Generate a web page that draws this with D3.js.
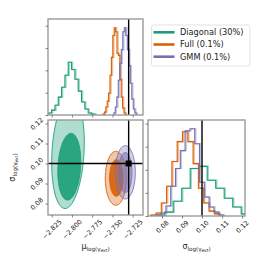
<!DOCTYPE html>
<html><head><meta charset="utf-8">
<script src="https://cdn.jsdelivr.net/npm/d3@7"></script>
<style>body{margin:0;background:#fff} svg{display:block;font-family:"DejaVu Sans",sans-serif}</style>
</head><body>
<script>
// ---------------- data ----------------
const methods = ["Diagonal (30%)", "Full (0.1%)", "GMM (0.1%)"];
const colors = ["#1b9e77", "#d95f02", "#7570b3"];
const truthMu = -2.73;
const truthSigma = 0.10;
const muTicks = [-2.825, -2.8, -2.775, -2.75, -2.725];
const sigmaTicks = [0.08, 0.09, 0.10, 0.11, 0.12];
const densityTicks = [0, 10, 20, 30, 40];

// 1D histograms of mu (left edge, bin width, heights)
const muBinStart = [-2.8292, -2.76167, -2.74833];
const muBinWidth = [0.0041, 0.00173, 0.00185];
const muDiagonal = [0.9, 2.2, 4.4, 8.0, 12.4, 17.8, 23.6, 20.4, 16.0, 10.7, 5.8, 2.7, 0.9, 0.4];
const muFull = [0.4, 1.3, 3.6, 6.2, 9.8, 17.8, 25.8, 35.6, 39.1, 37.3, 27.6, 26.7, 16.0, 8.0, 3.1, 0.9];
const muGMM = [0.9, 3.6, 8.0, 15.6, 23.1, 29.3, 37.3, 39.1, 35.6, 29.3, 22.2, 14.2, 7.1, 2.7, 0.9];

// 1D histograms of sigma
const sigBinStart = [0.0771, 0.07435, 0.07715];
const sigBinWidth = [0.00425, 0.00265, 0.0024];
const sigDiagonal = [0.4, 1.7, 6.4, 12.0, 20.6, 21.5, 15.5, 12.0, 7.7, 3.9, 0.9];
const sigFull = [0.4, 1.3, 5.6, 12.9, 23.6, 32.2, 36.5, 32.2, 22.7, 12.0, 5.6, 2.1, 0.9];
const sigGMM = [0.4, 1.3, 4.3, 12.9, 20.6, 28.3, 36.9, 37.8, 31.3, 14.6, 8.2, 3.9, 1.7, 0.4];

// 2D contours: [outer (2 sigma), inner (1 sigma)] centre mu, centre sigma, half-width mu, half-height sigma
const contourCentreMu = [[-2.8049, -2.8033], [-2.74586, -2.74525], [-2.73414, -2.73414]];
const contourCentreSigma = [[0.1055, 0.0984], [0.0926, 0.09275], [0.0956, 0.0955]];
const contourHalfMu = [[0.0198, 0.0140], [0.0130, 0.00827], [0.01235, 0.00827]];
const contourHalfSigma = [[0.0280, 0.0167], [0.0135, 0.00915], [0.01335, 0.0100]];
const contourTilt = [0.13, 0, 0];

const muHists = [muDiagonal, muFull, muGMM];
const sigHists = [sigDiagonal, sigFull, sigGMM];

// ---------------- layout ----------------
const W = 264, H = 264;
const svg = d3.select("body").append("svg").attr("width", W).attr("height", H);
const TL = {x0: 48, x1: 143, y0: 19, y1: 115};
const BL = {x0: 48, x1: 143, y0: 120, y1: 215};
const BR = {x0: 148, x1: 245, y0: 120, y1: 216};

const xMu = d3.scaleLinear().domain([-2.82957, -2.71228]).range([BL.x0, BL.x1]);
const ySig = d3.scaleLinear().domain([0.07425, 0.12175]).range([BL.y1, BL.y0]);
const xSig = d3.scaleLinear().domain([0.073, 0.1215]).range([BR.x0, BR.x1]);
const muMax = d3.max(muHists, h => d3.max(h));
const sigMax = d3.max(sigHists, h => d3.max(h));
const yMuD = d3.scaleLinear().domain([0, 1.1 * muMax]).range([TL.y1, TL.y0]);
const ySigD = d3.scaleLinear().domain([0, 1.1 * sigMax]).range([BR.y1, BR.y0]);

const defs = svg.append("defs");
function clip(id, p) {
  defs.append("clipPath").attr("id", id).append("rect")
    .attr("x", p.x0).attr("y", p.y0).attr("width", p.x1 - p.x0).attr("height", p.y1 - p.y0);
  return svg.append("g").attr("clip-path", `url(#${id})`);
}
const gTL = clip("cTL", TL), gBL = clip("cBL", BL), gBR = clip("cBR", BR);

function stepPoints(start, w, counts) {
  const pts = [[start, 0]];
  counts.forEach((c, i) => { pts.push([start + i * w, c]); pts.push([start + (i + 1) * w, c]); });
  pts.push([start + counts.length * w, 0]);
  return pts;
}
function drawHist(g, xs, ys, start, w, counts, color) {
  const line = d3.line().x(d => xs(d[0])).y(d => ys(d[1]));
  const pts = stepPoints(start, w, counts);
  g.append("path").attr("d", line(pts)).attr("fill", "none").attr("stroke", color)
    .attr("stroke-opacity", 0.4).attr("stroke-width", 1.6).attr("transform", "translate(1,0)");
  g.append("path").attr("d", line(pts)).attr("fill", "none").attr("stroke", color)
    .attr("stroke-width", 1.1);
}
methods.forEach((m, i) => {
  drawHist(gTL, xMu, yMuD, muBinStart[i], muBinWidth[i], muHists[i], colors[i]);
  drawHist(gBR, xSig, ySigD, sigBinStart[i], sigBinWidth[i], sigHists[i], colors[i]);
});

// contours
function ellipse(i, k) {
  const pts = d3.range(0, 2 * Math.PI + 0.01, Math.PI / 60).map(t => {
    const ds = contourHalfSigma[i][k] * Math.sin(t);
    const mu = contourCentreMu[i][k] + contourHalfMu[i][k] * Math.cos(t) + contourTilt[i] * ds;
    return [xMu(mu), ySig(contourCentreSigma[i][k] + ds)];
  });
  return d3.line().curve(d3.curveLinearClosed)(pts);
}
const outerOp = [0.35, 0.35, 0.32], innerOp = [0.9, 0.9, 0.55];
methods.forEach((m, i) => {
  gBL.append("path").attr("d", ellipse(i, 0)).attr("fill", colors[i]).attr("fill-opacity", outerOp[i]);
  gBL.append("path").attr("d", ellipse(i, 1)).attr("fill", colors[i]).attr("fill-opacity", innerOp[i]);
  gBL.append("path").attr("d", ellipse(i, 0)).attr("fill", "none").attr("stroke", colors[i]).attr("stroke-width", 0.9);
  gBL.append("path").attr("d", ellipse(i, 1)).attr("fill", "none").attr("stroke", colors[i]).attr("stroke-width", 0.9);
});

// truth lines
const tcol = "#000";
gTL.append("line").attr("x1", xMu(truthMu)).attr("x2", xMu(truthMu)).attr("y1", TL.y0).attr("y2", TL.y1).attr("stroke", tcol).attr("stroke-width", 1.4);
gBL.append("line").attr("x1", xMu(truthMu)).attr("x2", xMu(truthMu)).attr("y1", BL.y0).attr("y2", BL.y1).attr("stroke", tcol).attr("stroke-width", 1.4);
gBL.append("line").attr("x1", BL.x0).attr("x2", BL.x1).attr("y1", ySig(truthSigma)).attr("y2", ySig(truthSigma)).attr("stroke", tcol).attr("stroke-width", 1.4);
gBL.append("rect").attr("x", xMu(truthMu) - 3).attr("y", ySig(truthSigma) - 3).attr("width", 6).attr("height", 6).attr("fill", tcol);
gBR.append("line").attr("x1", xSig(truthSigma)).attr("x2", xSig(truthSigma)).attr("y1", BR.y0).attr("y2", BR.y1).attr("stroke", tcol).attr("stroke-width", 1.4);

// frames
[TL, BL, BR].forEach(p => svg.append("rect").attr("x", p.x0).attr("y", p.y0)
  .attr("width", p.x1 - p.x0).attr("height", p.y1 - p.y0)
  .attr("fill", "none").attr("stroke", "#9a9a9a").attr("stroke-width", 1.4));

// axes
const fmtMu = d3.format(".3f"), fmtSig = d3.format(".2f");
const tickCol = "#666";
function styleAxis(g) {
  g.select(".domain").remove();
  g.selectAll(".tick line").attr("stroke", tickCol).attr("stroke-width", 0.8);
}
const FS = 6.6;
// top-left: ticks only
svg.append("g").attr("transform", `translate(0,${TL.y1})`)
  .call(d3.axisBottom(xMu).tickValues(muTicks).tickSize(2.5).tickFormat("")).call(styleAxis);
svg.append("g").attr("transform", `translate(${TL.x0},0)`)
  .call(d3.axisLeft(yMuD).tickValues(densityTicks).tickSize(2.5).tickFormat("")).call(styleAxis);
svg.append("g").attr("transform", `translate(${BR.x0},0)`)
  .call(d3.axisLeft(ySigD).tickValues(densityTicks).tickSize(2.5).tickFormat("")).call(styleAxis);

function bottomAxis(scale, ticks, fmt, y) {
  const g = svg.append("g").attr("transform", `translate(0,${y})`)
    .call(d3.axisBottom(scale).tickValues(ticks).tickSize(2.5).tickFormat(fmt)).call(styleAxis);
  g.selectAll(".tick text").attr("font-size", FS).attr("fill", "#222")
    .attr("font-family", "DejaVu Sans").attr("text-anchor", "middle").attr("dy", null)
    .attr("dominant-baseline", "central")
    .each(function () {
      const t = d3.select(this);
      const w = this.getComputedTextLength();
      const off = (w + FS * 0.75) / (2 * Math.SQRT2) + 4;
      t.attr("y", 0).attr("transform", `translate(0,${off}) rotate(-45)`);
    });
}
bottomAxis(xMu, muTicks, fmtMu, BL.y1);
bottomAxis(xSig, sigmaTicks, fmtSig, BR.y1);

const gy = svg.append("g").attr("transform", `translate(${BL.x0},0)`)
  .call(d3.axisLeft(ySig).tickValues(sigmaTicks).tickSize(2.5).tickFormat(fmtSig)).call(styleAxis);
gy.selectAll(".tick text").attr("font-size", FS).attr("fill", "#222")
  .attr("font-family", "DejaVu Sans").attr("text-anchor", "middle").attr("dy", null)
  .attr("dominant-baseline", "central")
  .each(function () {
    const w = this.getComputedTextLength();
    const off = (w + FS * 0.75) / (2 * Math.SQRT2) + 4;
    d3.select(this).attr("x", 0).attr("transform", `translate(${-off},0) rotate(-45)`);
  });

// axis labels
function axisLabel(x, y, sym, rot) {
  const t = svg.append("text").attr("x", 0).attr("y", 0)
    .attr("transform", `translate(${x},${y}) rotate(${rot})`)
    .attr("text-anchor", "middle").attr("font-size", 8).attr("fill", "#222")
    .attr("font-family", "DejaVu Sans");
  t.append("tspan").text(sym);
  t.append("tspan").attr("font-size", 5.6).attr("dy", 2).text("log(γ");
  t.append("tspan").attr("font-size", 4.4).attr("dy", 1).text("ext");
  t.append("tspan").attr("font-size", 5.6).attr("dy", -1).text(")");
}
axisLabel((BL.x0 + BL.x1) / 2, 249, "μ", 0);
axisLabel((BR.x0 + BR.x1) / 2, 249, "σ", 0);
axisLabel(15, (BL.y0 + BL.y1) / 2, "σ", -90);

// legend
const lg = svg.append("g");
lg.append("rect").attr("x", 151.5).attr("y", 25).attr("width", 98.5).attr("height", 41)
  .attr("rx", 2).attr("fill", "#fff").attr("stroke", "#dcdcdc").attr("stroke-width", 0.8);
methods.forEach((m, i) => {
  const y = 32.3 + i * 12.2;
  lg.append("line").attr("x1", 153.5).attr("x2", 174.5).attr("y1", y).attr("y2", y)
    .attr("stroke", colors[i]).attr("stroke-width", 2.6);
  lg.append("text").attr("x", 180).attr("y", y).attr("dy", "0.35em")
    .attr("font-size", 8.2).attr("fill", "#222").attr("font-family", "DejaVu Sans").text(m);
});
</script>
</body></html>
